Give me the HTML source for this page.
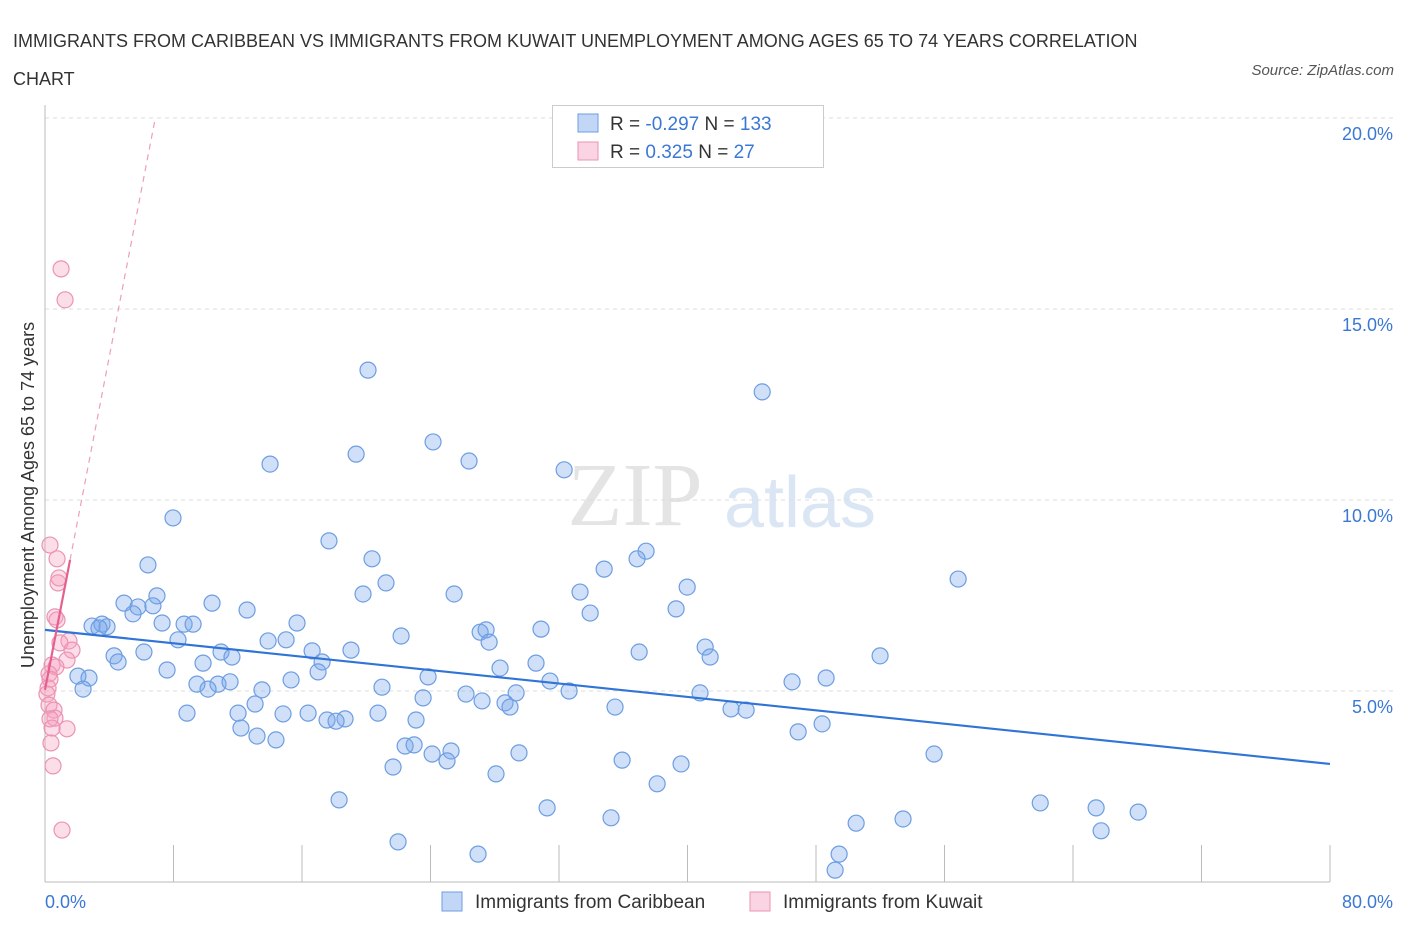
<!DOCTYPE html>
<html><head><meta charset="utf-8">
<style>
body{margin:0;background:#fff;font-family:"Liberation Sans",sans-serif;}
#wrap{position:relative;width:1406px;height:930px;overflow:hidden;}
.t{position:absolute;white-space:nowrap;}
</style></head>
<body>
<div id="wrap">
<div class="t" style="left:13px;top:22px;font-size:18px;color:#333;line-height:38px;">IMMIGRANTS FROM CARIBBEAN VS IMMIGRANTS FROM KUWAIT UNEMPLOYMENT AMONG AGES 65 TO 74 YEARS CORRELATION<br>CHART</div>
<div class="t" style="right:12px;top:62px;font-size:15px;color:#555;font-style:italic;">Source: ZipAtlas.com</div>
<svg id="svg" width="1406" height="930" style="position:absolute;left:0;top:0"></svg>
</div>
<script>
const xTicks=[0,80];
const yTicks=[5,10,15,20];
const blueX=[20.11,44.65,24.16,14.01,19.37,26.40,32.32,7.97,17.68,20.36,37.42,36.86,6.41,34.81,56.85,21.23,39.98,33.31,19.80,25.47,6.97,4.92,10.40,5.79,6.72,12.58,5.48,39.29,33.94,15.69,7.29,8.66,9.22,2.93,3.55,3.86,3.36,30.88,27.09,27.46,22.17,13.89,15.01,8.28,27.65,41.10,19.05,16.63,6.16,36.99,4.30,10.96,11.64,41.41,51.99,17.25,4.55,9.84,30.57,28.33,7.60,17.00,2.05,23.85,15.32,2.74,46.51,48.63,31.44,9.46,10.77,11.52,2.37,10.15,20.98,13.51,32.63,40.78,26.21,29.33,23.54,28.64,27.21,28.95,13.08,35.49,42.71,43.65,8.84,14.82,16.38,20.73,12.02,23.10,18.68,17.56,18.12,48.38,12.20,46.89,13.20,14.38,22.42,22.98,25.28,24.10,29.51,25.03,55.35,35.93,39.60,21.67,28.08,38.11,18.31,31.26,61.96,65.44,68.06,35.24,53.42,50.50,65.75,21.98,26.96,49.44,49.19];
const blueY=[13.40,12.83,11.52,10.94,11.20,11.02,10.79,9.53,8.93,8.46,8.66,8.46,8.30,8.19,7.93,7.83,7.72,7.59,7.54,7.54,7.49,7.30,7.30,7.20,7.23,7.12,7.02,7.15,7.04,6.78,6.78,6.75,6.75,6.70,6.75,6.68,6.65,6.62,6.54,6.60,6.44,6.31,6.34,6.34,6.28,6.15,6.07,6.05,6.02,6.02,5.92,6.02,5.89,5.89,5.92,5.76,5.76,5.73,5.73,5.60,5.55,5.50,5.39,5.37,5.29,5.34,5.24,5.34,5.26,5.18,5.18,5.24,5.05,5.05,5.10,5.03,5.00,4.95,4.92,4.95,4.82,4.69,4.74,4.58,4.66,4.58,4.53,4.50,4.42,4.40,4.42,4.42,4.42,4.24,4.27,4.24,4.21,4.14,4.03,3.93,3.82,3.72,3.56,3.59,3.43,3.35,3.38,3.17,3.35,3.19,3.09,3.01,2.83,2.57,2.15,1.94,2.07,1.94,1.83,1.68,1.65,1.54,1.34,1.05,0.73,0.73,0.31];
const pinkX=[1.00,1.25,0.31,0.75,0.81,0.87,0.62,0.75,1.49,0.93,1.68,1.37,0.44,0.68,0.25,0.31,0.19,0.12,0.25,0.56,0.62,0.31,1.37,0.44,0.37,0.50,1.06];
const pinkY=[16.05,15.24,8.82,8.46,7.83,7.96,6.94,6.86,6.31,6.26,6.07,5.81,5.68,5.63,5.45,5.31,5.08,4.92,4.63,4.50,4.29,4.27,4.01,4.03,3.64,3.04,1.36];
const blueTrend=[6.60,3.09]; // y at x=0 and x=80
const pinkTrend=[5.03,2.18]; // intercept, slope
const pinkSolidEnd=1.56;

const X0=45,X1=1330,Y0=882,YTOP=118;
const sx=v=>X0+v/80*(X1-X0);
const sy=v=>Y0-v/20*(Y0-YTOP);
const svg=document.getElementById('svg');
const NS='http://www.w3.org/2000/svg';
function mk(tag,attrs,parent){const e=document.createElementNS(NS,tag);for(const k in attrs)e.setAttribute(k,attrs[k]);(parent||svg).appendChild(e);return e;}

// watermark
let wm=mk('text',{x:635,y:525,'font-size':90,'font-family':'Liberation Serif, serif',fill:'#e4e4e4','text-anchor':'middle'});


wm.textContent='ZIP';
let wm2=mk('text',{x:800,y:527,'font-size':72,'font-family':'Liberation Sans, sans-serif',fill:'#dbe6f5','text-anchor':'middle'});


wm2.textContent='atlas';

// grid
yTicks.forEach(v=>{
  const g=mk('line',{x1:X0,x2:1393,y1:sy(v),y2:sy(v),stroke:'#ddd','stroke-dasharray':'4,4'});
  
  
  const t=mk('text',{x:1393,y:sy(v)+22,'text-anchor':'end','font-size':18,fill:'#3a78d4','font-family':'Liberation Sans, sans-serif'});
  
  
  t.textContent=v.toFixed(1)+'%';
});
// axes
let ax=mk('line',{x1:X0,x2:X1,y1:Y0,y2:Y0,stroke:'#bbb'});


let ay=mk('line',{x1:X0,x2:X0,y1:105,y2:Y0,stroke:'#bbb'});


for(let i=1;i<=10;i++){
  const tk=mk('line',{x1:sx(i*8),x2:sx(i*8),y1:845,y2:Y0,stroke:'#bbb'});
  
  
}
xTicks.forEach((v,i)=>{
  const t=mk('text',{x:i==0?X0:1393,y:908,'text-anchor':i==0?'start':'end','font-size':18,fill:'#3a78d4','font-family':'Liberation Sans, sans-serif'});
  
  
  t.textContent=v.toFixed(1)+'%';
});
let yt=mk('text',{x:34,y:495,'text-anchor':'middle','font-size':18,fill:'#333','font-family':'Liberation Sans, sans-serif',transform:'rotate(-90 34 495)'});


yt.textContent='Unemployment Among Ages 65 to 74 years';

// points
blueX.forEach((x,i)=>{
  const c=mk('circle',{cx:sx(x),cy:sy(blueY[i]),r:8,fill:'rgba(120,165,235,0.35)',stroke:'#6d9de2','stroke-width':1.2});
  
  
});
pinkX.forEach((x,i)=>{
  const c=mk('circle',{cx:sx(x),cy:sy(pinkY[i]),r:8,fill:'rgba(245,160,190,0.35)',stroke:'#eb93b3','stroke-width':1.2});
  
  
});
// trends
let bt=mk('line',{x1:sx(0),y1:sy(blueTrend[0]),x2:sx(80),y2:sy(blueTrend[1]),stroke:'#2f74d6','stroke-width':2.2});


const pEnd=(20-pinkTrend[0])/pinkTrend[1];
let pd=mk('line',{x1:sx(pinkSolidEnd),y1:sy(pinkTrend[0]+pinkTrend[1]*pinkSolidEnd),x2:sx(pEnd),y2:sy(20),stroke:'#e9a0b8','stroke-width':1.2,'stroke-dasharray':'6,5'});


let ps=mk('line',{x1:sx(0),y1:sy(pinkTrend[0]),x2:sx(pinkSolidEnd),y2:sy(pinkTrend[0]+pinkTrend[1]*pinkSolidEnd),stroke:'#e5608f','stroke-width':2.2});



// legend box
let lb=mk('rect',{x:552.5,y:105.5,width:271,height:62,fill:'#fff',stroke:'#ccc'});


[[0,'rgba(120,165,235,0.45)','#6d9de2','-0.297','133'],[1,'rgba(245,160,190,0.45)','#eb93b3',' 0.325',' 27']].forEach(([i,f,s,r,n])=>{
  const y=114+i*28;
  const sq=mk('rect',{x:578,y:y,width:20,height:18,fill:f,stroke:s});
  
  
  const t=mk('text',{x:610,y:y+16,'font-size':19,fill:'#333','font-family':'Liberation Sans, sans-serif','xml:space':'preserve'});
  
  
  t.innerHTML='R = <tspan fill="#3a78d4">'+(i?'  0.325':'-0.297')+'</tspan>   N = <tspan fill="#3a78d4">'+(i?'  27':'133')+'</tspan>';
});
// bottom legend
[[442,'rgba(120,165,235,0.45)','#6d9de2','Immigrants from Caribbean','legend-caribbean'],[750,'rgba(245,160,190,0.45)','#eb93b3','Immigrants from Kuwait','legend-kuwait']].forEach(([x,f,s,l,nm])=>{
  const sq=mk('rect',{x:x,y:892,width:20,height:19,fill:f,stroke:s});
  
  
  const t=mk('text',{x:x+33,y:908,'font-size':19,fill:'#333','font-family':'Liberation Sans, sans-serif'});
  
  
  t.textContent=l;
});
</script>
</body></html>
